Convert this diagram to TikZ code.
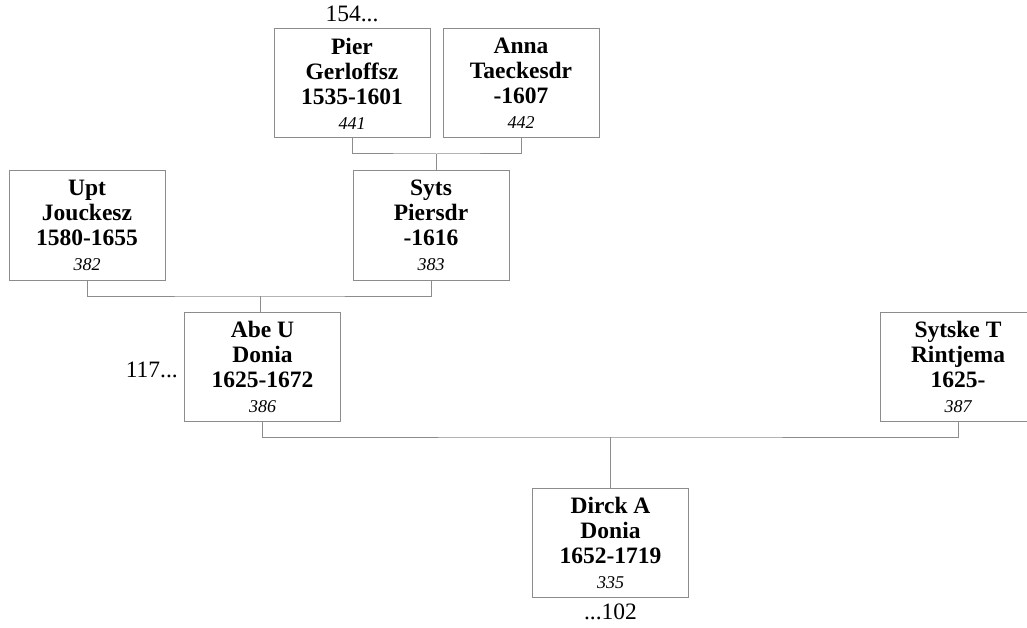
\documentclass[tikz,border=0pt]{standalone}
\usepackage{fontspec}
\setmainfont{Liberation Serif}
\usetikzlibrary{positioning}
\definecolor{box-gray}{HTML}{8C8C8C}
\definecolor{line-gray}{HTML}{8C8C8C}

\tikzset{
  person/.style={draw=box-gray, line width=1pt, fill=white,
    minimum width=156pt, minimum height=109pt, inner sep=0pt,
    align=center, font=\fontsize{23.5}{25}\selectfont\bfseries},
  link/.style={draw=line-gray, line width=1pt},
  note/.style={inner sep=0pt, font=\fontsize{23.5}{25}\selectfont}
}
\newcommand{\refno}[1]{{\fontsize{18}{24}\selectfont\mdseries\itshape #1}}

\begin{document}
\begin{tikzpicture}[x=1pt, y=-1pt]
  \useasboundingbox (0,0) rectangle (1027,628);
  \clip (0,0) rectangle (1027,628);

  % grandparents
  \node[person] (Pier) at (352,83.5) {Pier\\Gerloffsz\\1535-1601\\\refno{441}};
  \node[person] (Anna) at (521,83.5) {Anna\\Taeckesdr\\-1607\\\refno{442}};
  % parents' generation
  \node[person] (Upt) at (87,225.5) {Upt\\Jouckesz\\1580-1655\\\refno{382}};
  \node[person] (Syts) at (431,225.5) {Syts\\Piersdr\\-1616\\\refno{383}};
  \node[person] (Abe) at (262.5,367) {Abe U\\Donia\\1625-1672\\\refno{386}};
  \node[person] (Sytske) at (958,367) {Sytske T\\Rintjema\\1625-\\\refno{387}};
  \node[person] (Dirck) at (610.5,542.5) {Dirck A\\Donia\\1652-1719\\\refno{335}};

  % continuation marks
  \node[note, above=6pt of Pier.north] (PierMore) {154...};
  \node[note, left=6pt of Abe, yshift=-3pt] (AbeMore) {117...};
  \node[note, below=6pt of Dirck.south] (DirckMore) {...102};

  % family links
  \coordinate (barA) at (436.5,154);
  \draw[link] (Pier.south) |- (barA) -| (Anna.south);
  \draw[link] (barA) -- (barA |- Syts.north);

  \coordinate (barB) at (260,296);
  \draw[link] (Upt.south) |- (barB) -| (Syts.south);
  \draw[link] (barB) -- (barB |- Abe.north);

  \coordinate (barC) at (610.5,437);
  \draw[link] (Abe.south) |- (barC) -| (Sytske.south);
  \draw[link] (barC) -- (barC |- Dirck.north);
\end{tikzpicture}
\end{document}
